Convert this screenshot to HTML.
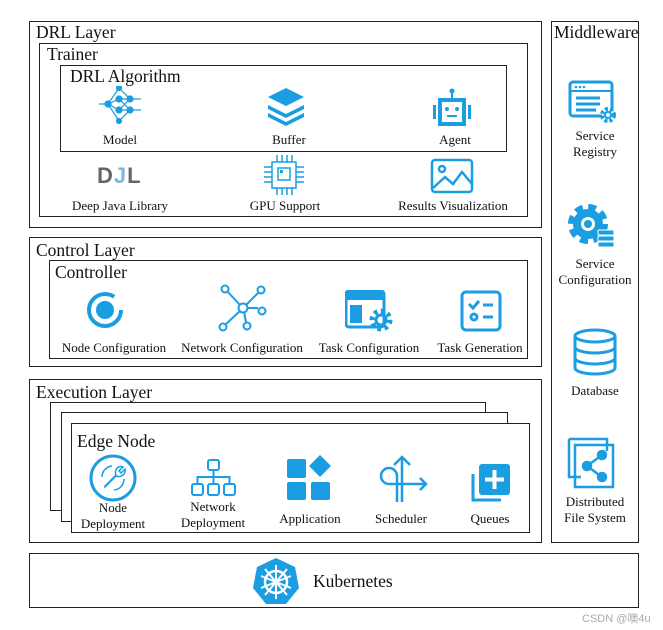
<!DOCTYPE html>
<html><head><meta charset="utf-8"><style>
body{margin:0;width:663px;height:630px;background:#fff;position:relative;overflow:hidden;font-family:"Liberation Serif",serif;color:#111}
.b{position:absolute;border:1.3px solid #222;box-sizing:border-box;background:#fff}
.t{position:absolute;font-size:17.5px;white-space:nowrap;line-height:20px}
.l{position:absolute;font-size:13px;text-align:center;width:150px;margin-left:-75px;line-height:16px}
svg{position:absolute}
</style></head><body>
<div class="b" style="left:29px;top:21px;width:513px;height:207px"></div>
<div class="t" style="left:36px;top:22px">DRL Layer</div>
<div class="b" style="left:39px;top:43px;width:489px;height:174px"></div>
<div class="t" style="left:47px;top:44px">Trainer</div>
<div class="b" style="left:60px;top:65px;width:447px;height:87px"></div>
<div class="t" style="left:70px;top:66px">DRL Algorithm</div>

<svg style="left:97px;top:86px" width="46" height="40" viewBox="0 0 46 40" fill="none" stroke="#1a9de1" stroke-width="1.2"><circle cx="11" cy="18" r="3" fill="#1a9de1"/><circle cx="22" cy="2" r="2.5" fill="#1a9de1"/><circle cx="22" cy="13" r="3" fill="#1a9de1"/><circle cx="22" cy="24" r="3" fill="#1a9de1"/><circle cx="22" cy="35" r="2.5" fill="#1a9de1"/><circle cx="33" cy="13" r="3" fill="#1a9de1"/><circle cx="33" cy="24" r="3" fill="#1a9de1"/><path d="M2 18H8M11 18L22 2M11 18L22 13M11 18L22 24M11 18L22 35M22 2L33 13M22 13L33 13M22 24L33 24M22 13L33 24M22 24L33 13M22 35L33 24M36 13H44M36 24H44"/></svg>
<div class="l" style="left:120px;top:132px">Model</div>
<svg style="left:266px;top:88px" width="40" height="38" viewBox="0 0 40 38" fill="#1a9de1"><path d="M20 0L38 9L20 18L2 9Z"/><path d="M2 17L20 26L38 17L38 21L20 30L2 21Z"/><path d="M2 25L20 34L38 25L38 29L20 38L2 29Z"/></svg>
<div class="l" style="left:289px;top:132px">Buffer</div>
<svg style="left:432px;top:88px" width="40" height="40" viewBox="0 0 40 40"><circle cx="20" cy="3" r="2.5" fill="#1a9de1"/><rect x="19" y="3" width="2" height="8" fill="#1a9de1"/><rect x="8" y="12" width="24" height="24" fill="none" stroke="#1a9de1" stroke-width="4"/><rect x="1" y="17" width="3" height="14" fill="#1a9de1"/><rect x="36" y="17" width="3" height="14" fill="#1a9de1"/><circle cx="15" cy="21" r="2" fill="#1a9de1"/><circle cx="25" cy="21" r="2" fill="#1a9de1"/><rect x="15" y="27" width="10" height="2" fill="#1a9de1"/></svg>
<div class="l" style="left:455px;top:132px">Agent</div>

<div style="position:absolute;left:97px;top:163px;font:bold 22px 'Liberation Sans',sans-serif;color:#666;letter-spacing:1px">D<span style="color:#7ab8e6">J</span>L</div>
<div class="l" style="left:120px;top:198px">Deep Java Library</div>
<svg style="left:262px;top:155px" width="44" height="40" viewBox="0 0 44 40" fill="none" stroke="#1a9de1" stroke-width="1.5"><rect x="10" y="7" width="24" height="26"/><rect x="16" y="13" width="12" height="12"/><rect x="18" y="15" width="3" height="3" fill="#1a9de1" stroke="none"/><path d="M15 0V7M20 0V7M25 0V7M30 0V7M15 33V40M20 33V40M25 33V40M30 33V40M2 12H10M2 17H10M2 22H10M2 27H10M34 12H42M34 17H42M34 22H42M34 27H42"/></svg>
<div class="l" style="left:285px;top:198px">GPU Support</div>
<svg style="left:430px;top:158px" width="44" height="36" viewBox="0 0 44 36" fill="none" stroke="#1a9de1" stroke-width="2.5"><rect x="2" y="2" width="40" height="32" rx="3"/><circle cx="12" cy="11" r="3"/><path d="M3 30L15 19L23 26L32 14L42 26"/></svg>
<div class="l" style="left:453px;top:198px">Results Visualization</div>

<div class="b" style="left:29px;top:237px;width:513px;height:130px"></div>
<div class="t" style="left:36px;top:240px">Control Layer</div>
<div class="b" style="left:49px;top:260px;width:479px;height:99px"></div>
<div class="t" style="left:55px;top:262px">Controller</div>
<svg style="left:85px;top:290px" width="40" height="40" viewBox="0 0 40 40"><circle cx="20" cy="20" r="16" fill="none" stroke="#1a9de1" stroke-width="4" stroke-dasharray="85 16"/><circle cx="20" cy="20" r="9" fill="#1a9de1"/></svg>
<div class="l" style="left:114px;top:340px">Node Configuration</div>
<svg style="left:217px;top:284px" width="52" height="48" viewBox="0 0 52 48" fill="none" stroke="#1a9de1" stroke-width="2"><circle cx="26" cy="24" r="4.5"/><circle cx="8" cy="5" r="3.5"/><circle cx="44" cy="6" r="3.5"/><circle cx="6" cy="43" r="3.5"/><circle cx="30" cy="42" r="3.5"/><circle cx="45" cy="27" r="3.5"/><path d="M23 21L10 7M29 21L41 9M23 27L9 40M27 28L29 38M30 24H41"/></svg>
<div class="l" style="left:242px;top:340px">Network Configuration</div>
<svg style="left:345px;top:290px" width="50" height="42" viewBox="0 0 50 42"><rect x="1" y="1" width="38" height="36" rx="3" fill="none" stroke="#1a9de1" stroke-width="3"/><rect x="1" y="1" width="38" height="9" fill="#1a9de1"/><rect x="5" y="15" width="12" height="18" fill="#1a9de1"/><circle cx="36" cy="30" r="9" fill="none" stroke="#1a9de1" stroke-width="5" stroke-dasharray="3.5 3.5"/><circle cx="36" cy="30" r="5" fill="none" stroke="#1a9de1" stroke-width="3"/></svg>
<div class="l" style="left:369px;top:340px">Task Configuration</div>
<svg style="left:460px;top:290px" width="42" height="42" viewBox="0 0 42 42" fill="none" stroke="#1a9de1" stroke-width="3"><rect x="2" y="2" width="38" height="38" rx="4"/><path d="M9 14L13 18L19 11M23 15H33M23 27H33"/><circle cx="14" cy="27" r="3"/></svg>
<div class="l" style="left:480px;top:340px">Task Generation</div>

<div class="b" style="left:29px;top:379px;width:513px;height:164px"></div>
<div class="t" style="left:36px;top:382px">Execution Layer</div>
<div class="b" style="left:50px;top:402px;width:436px;height:109px"></div>
<div class="b" style="left:61px;top:412px;width:447px;height:110px"></div>
<div class="b" style="left:71px;top:423px;width:459px;height:110px"></div>
<div class="t" style="left:77px;top:431px">Edge Node</div>
<svg style="left:88px;top:453px" width="50" height="50" viewBox="0 0 50 50" fill="none" stroke="#1a9de1"><circle cx="25" cy="25" r="22" stroke-width="3"/><path d="M17 33L28 22C26 17 30 12 35 14L31 18L33 20L37 16C38 21 33 25 28 23L17 34Z" stroke-width="1.5"/><path d="M14 24A11 11 0 0 1 24 13M36 26A11 11 0 0 1 26 37" stroke-width="1.5"/></svg>
<div class="l" style="left:113px;top:500px">Node<br>Deployment</div>
<svg style="left:190px;top:458px" width="48" height="40" viewBox="0 0 48 40" fill="none" stroke="#1a9de1" stroke-width="2"><rect x="18" y="2" width="11" height="10" rx="2"/><rect x="2" y="26" width="11" height="11" rx="2"/><rect x="18" y="26" width="11" height="11" rx="2"/><rect x="34" y="26" width="11" height="11" rx="2"/><path d="M23.5 12V26M7.5 26V19H39.5V26"/></svg>
<div class="l" style="left:213px;top:499px">Network<br>Deployment</div>
<svg style="left:285px;top:453px" width="48" height="48" viewBox="0 0 48 48" fill="#1a9de1"><rect x="2" y="6" width="19" height="19" rx="2"/><rect x="2" y="29" width="19" height="18" rx="2"/><rect x="26" y="29" width="19" height="18" rx="2"/><path d="M35 2L46 13L35 24L24 13Z"/></svg>
<div class="l" style="left:310px;top:511px">Application</div>
<svg style="left:376px;top:454px" width="52" height="48" viewBox="0 0 52 48" fill="none" stroke="#1a9de1" stroke-width="2.5"><path d="M26 48V3M18 11L26 3L34 11M21 48V22A8 8 0 1 0 13 30H50M44 24L50 30L44 36"/></svg>
<div class="l" style="left:401px;top:511px">Scheduler</div>
<svg style="left:469px;top:462px" width="44" height="42" viewBox="0 0 44 42"><rect x="10" y="2" width="31" height="31" rx="3" fill="#1a9de1"/><path d="M25.5 8V27M16 17.5H35" stroke="#fff" stroke-width="4"/><path d="M4 12V38H32" fill="none" stroke="#1a9de1" stroke-width="3"/></svg>
<div class="l" style="left:490px;top:511px">Queues</div>

<div class="b" style="left:551px;top:21px;width:88px;height:522px"></div>
<div class="t" style="left:554px;top:22px">Middleware</div>
<svg style="left:568px;top:80px" width="52" height="44" viewBox="0 0 52 44"><rect x="2" y="2" width="42" height="34" rx="3" fill="none" stroke="#1a9de1" stroke-width="3"/><path d="M2 11H44" stroke="#1a9de1" stroke-width="2"/><circle cx="8" cy="7" r="1.3" fill="#1a9de1"/><circle cx="12" cy="7" r="1.3" fill="#1a9de1"/><circle cx="16" cy="7" r="1.3" fill="#1a9de1"/><path d="M8 18H32M8 24H32M8 30H28" stroke="#1a9de1" stroke-width="3"/><circle cx="40" cy="35" r="6" fill="#fff" stroke="#1a9de1" stroke-width="4" stroke-dasharray="3 2"/><circle cx="40" cy="35" r="3" fill="none" stroke="#1a9de1" stroke-width="2"/></svg>
<div class="l" style="left:595px;top:128px">Service<br>Registry</div>
<svg style="left:564px;top:200px" width="52" height="50" viewBox="0 0 52 50"><circle cx="24" cy="24" r="15" fill="#1a9de1" stroke="#1a9de1" stroke-width="10" stroke-dasharray="7 4.8"/><circle cx="24" cy="24" r="7" fill="#fff"/><circle cx="24" cy="24" r="4" fill="#1a9de1"/><rect x="34" y="30" width="16" height="5" rx="1" fill="#1a9de1" stroke="#fff"/><rect x="34" y="36" width="16" height="5" rx="1" fill="#1a9de1" stroke="#fff"/><rect x="34" y="42" width="16" height="5" rx="1" fill="#1a9de1" stroke="#fff"/></svg>
<div class="l" style="left:595px;top:256px">Service<br>Configuration</div>
<svg style="left:572px;top:328px" width="46" height="48" viewBox="0 0 46 48" fill="none" stroke="#1a9de1" stroke-width="3"><ellipse cx="23" cy="8" rx="20" ry="6"/><path d="M3 8V40A20 6 0 0 0 43 40V8M3 19A20 6 0 0 0 43 19M3 30A20 6 0 0 0 43 30"/></svg>
<div class="l" style="left:595px;top:383px">Database</div>
<svg style="left:567px;top:437px" width="52" height="52" viewBox="0 0 52 52" fill="none" stroke="#1a9de1" stroke-width="2.5"><path d="M2 2H40V14M2 2V40H14"/><path d="M8 8H46V50H8Z"/><circle cx="35" cy="18" r="4" fill="#1a9de1"/><circle cx="20" cy="29" r="4" fill="#1a9de1"/><circle cx="35" cy="40" r="4" fill="#1a9de1"/><path d="M20 29L35 18M20 29L35 40"/></svg>
<div class="l" style="left:595px;top:494px">Distributed<br>File System</div>

<div class="b" style="left:29px;top:553px;width:610px;height:55px"></div>
<svg style="left:251px;top:556px" width="50" height="50" viewBox="0 0 50 50"><path d="M25 2L44 11L48 32L35 48H15L2 32L6 11Z" fill="#1a9de1"/><circle cx="25" cy="26" r="11" fill="none" stroke="#fff" stroke-width="2.5"/><circle cx="25" cy="26" r="3" fill="#fff"/><path d="M25 9V43M10 20L40 32M10 32L40 20M14 39L36 13M14 13L36 39" stroke="#fff" stroke-width="2"/></svg>
<div class="t" style="left:313px;top:571px">Kubernetes</div>
<div style="position:absolute;left:582px;top:610px;font:11px 'Liberation Sans','Noto Sans CJK SC',sans-serif;color:#aaa">CSDN @噢4u</div>
</body></html>
